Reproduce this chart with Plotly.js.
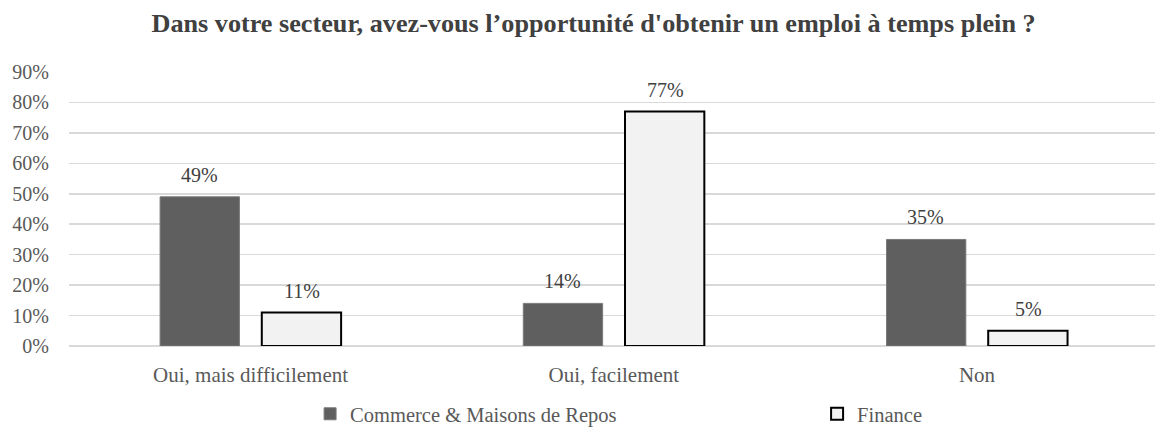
<!DOCTYPE html>
<html>
<head>
<meta charset="utf-8">
<script src="https://cdn.plot.ly/plotly-3.0.1.min.js"></script>
<style>html,body{margin:0;padding:0;background:#fff;}#chart{width:1155px;height:428px;}</style>
</head>
<body>
<div id="chart"></div>
<script>
const categories = ["Oui, mais difficilement", "Oui, facilement", "Non"];
const commerceValues = [0.49, 0.14, 0.35];
const financeValues = [0.11, 0.77, 0.05];
const seriesNames = ["Commerce & Maisons de Repos", "Finance"];
const yTickVals = [0, 0.1, 0.2, 0.3, 0.4, 0.5, 0.6, 0.7, 0.8, 0.9];
const yTickText = ["0%", "10%", "20%", "30%", "40%", "50%", "60%", "70%", "80%", "90%"];

const fontFam = "Liberation Serif, Times New Roman, serif";

const traces = [
  {
    type: "bar", name: seriesNames[0], x: categories, y: commerceValues,
    marker: {color: "#5f5f5f", line: {color: "#7a7a7a", width: 1}},
    hoverinfo: "skip"
  },
  {
    type: "bar", name: seriesNames[1], x: categories, y: financeValues,
    marker: {color: "#f2f2f2", line: {color: "#000000", width: 2}},
    hoverinfo: "skip"
  }
];

const annotations = [];
[commerceValues, financeValues].forEach((vals, s) => {
  vals.forEach((v, i) => {
    annotations.push({
      x: i + (s === 0 ? -0.141 : 0.141), y: v, xref: "x", yref: "y",
      text: Math.round(v * 100) + "%", showarrow: false,
      yanchor: "bottom", yshift: 9,
      font: {family: fontFam, size: 20, color: "#404040"}
    });
  });
});

const layout = {
  width: 1155, height: 428,
  paper_bgcolor: "#ffffff", plot_bgcolor: "#ffffff",
  margin: {l: 69, r: 0, t: 72, b: 82, autoexpand: false},
  title: {
    text: "<b>Dans votre secteur, avez-vous l’opportunité d'obtenir un emploi à temps plein ?</b>",
    font: {family: fontFam, size: 26.2, color: "#404040"},
    x: 0.5139, xanchor: "center", y: 0.947, yanchor: "middle", xref: "container", yref: "container"
  },
  barmode: "group", bargap: 0.44, bargroupgap: 0.22,
  xaxis: {
    type: "category", range: [-0.5, 2.49],
    showgrid: false, showline: false, zeroline: false,
    ticks: "outside", ticklen: 10, tickcolor: "rgba(0,0,0,0)",
    tickfont: {family: fontFam, size: 21, color: "#595959"}
  },
  yaxis: {
    range: [0, 0.9], tickvals: yTickVals, ticktext: yTickText,
    showgrid: true, gridcolor: "#d9d9d9", gridwidth: 1.5,
    zeroline: true, zerolinecolor: "#d9d9d9", zerolinewidth: 1.5,
    showline: false,
    ticks: "outside", ticklen: 15, tickcolor: "rgba(0,0,0,0)",
    tickfont: {family: fontFam, size: 20, color: "#595959"}
  },
  showlegend: true,
  legend: {
    orientation: "h", x: 0.222, xanchor: "left", y: -0.248, yanchor: "middle",
    entrywidth: 462, entrywidthmode: "pixels",
    itemwidth: 30, tracegroupgap: 0,
    font: {family: fontFam, size: 20.5, color: "#595959"}
  },
  annotations: annotations
};

Plotly.newPlot("chart", traces, layout, {displayModeBar: false, staticPlot: true});
</script>
</body>
</html>
